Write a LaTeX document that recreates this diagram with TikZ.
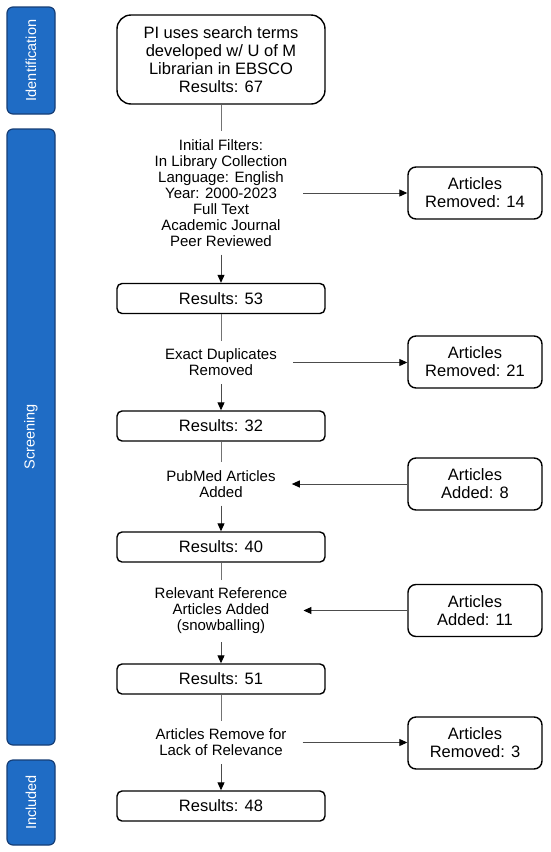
\documentclass[tikz,border=0pt]{standalone}
\usepackage{fontspec}
\setmainfont{Liberation Sans}
\usetikzlibrary{arrows.meta}
\definecolor{barblue}{RGB}{31,108,197}
\definecolor{barline}{RGB}{22,62,118}
\begin{document}
\begin{tikzpicture}[x=1pt,y=-1pt,
  bar/.style={draw=barline, line width=1.2pt, fill=barblue, rounded corners=6pt, rotate=90,
    minimum height=48pt, inner sep=0pt, text=white, font=\fontsize{14.5}{16}\selectfont},
  mainbox/.style={draw, line width=1.4pt, rounded corners=5pt, minimum width=208pt,
    minimum height=30pt, inner sep=0pt, align=center, font=\fontsize{16.5}{18}\selectfont},
  sidebox/.style={draw, line width=1.4pt, rounded corners=8pt, minimum width=134pt,
    minimum height=52pt, inner sep=0pt, align=center, font=\fontsize{16.5}{18}\selectfont},
  topbox/.style={mainbox, rounded corners=14pt, minimum height=89pt},
  stage/.style={align=center, inner xsep=16pt, inner ysep=8pt, font=\fontsize{15}{16}\selectfont},
  plain/.style={draw=black!55, line width=1pt},
  arr/.style={draw=black!70, line width=1pt, -{Triangle[length=8pt,width=7pt,color=black]}}
]
\fill[white] (0,0) rectangle (550,852);
\useasboundingbox (0,0) rectangle (550,852);

% phase bars
\node[bar, minimum width=107pt] (ident) at (31,60.5) {Identification};
\node[bar, minimum width=616pt] (screen) at (31,437) {Screening};
\node[bar, minimum width=85pt] (incl) at (31,802.5) {Included};

% main column
\node[topbox] (top) at (221,59.5) {PI uses search terms\\developed w/ U of M\\Librarian in EBSCO\\Results: 67};
\node[stage] (filt) at (221,193) {Initial Filters:\\In Library Collection\\Language: English\\Year: 2000-2023\\Full Text\\Academic Journal\\Peer Reviewed};
\node[mainbox] (r53) at (221,298.5) {Results: 53};
\node[stage] (dup) at (221,362.5) {Exact Duplicates\\Removed};
\node[mainbox] (r32) at (221,426) {Results: 32};
\node[stage] (pub) at (221,484) {PubMed Articles\\Added};
\node[mainbox] (r40) at (221,547) {Results: 40};
\node[stage] (rel) at (221,611) {Relevant Reference\\Articles Added\\(snowballing)};
\node[mainbox] (r51) at (221,679) {Results: 51};
\node[stage] (lack) at (221,742.5) {Articles Remove for\\Lack of Relevance};
\node[mainbox] (r48) at (221,806) {Results: 48};

% side column
\node[sidebox] (rem14) at (475,193) {Articles\\Removed: 14};
\node[sidebox] (rem21) at (475,362) {Articles\\Removed: 21};
\node[sidebox] (add8) at (475,484) {Articles\\Added: 8};
\node[sidebox] (add11) at (475,610.5) {Articles\\Added: 11};
\node[sidebox] (rem3) at (475,743) {Articles\\Removed: 3};

% vertical connectors
\draw[plain] (top.south) -- (filt.north);
\draw[arr] (filt.south) -- (r53.north);
\draw[plain] (r53.south) -- (dup.north);
\draw[arr] (dup.south) -- (r32.north);
\draw[plain] (r32.south) -- (pub.north);
\draw[arr] (pub.south) -- (r40.north);
\draw[plain] (r40.south) -- (rel.north);
\draw[arr] (rel.south) -- (r51.north);
\draw[plain] (r51.south) -- (lack.north);
\draw[arr] (lack.south) -- (r48.north);

% horizontal connectors
\draw[arr] (filt.east) -- (filt.east -| rem14.west);
\draw[arr] (dup.east) -- (dup.east -| rem21.west);
\draw[arr] (add8.west) -- (add8.west -| pub.east);
\draw[arr] (add11.west) -- (add11.west -| rel.east);
\draw[arr] (lack.east) -- (lack.east -| rem3.west);
\end{tikzpicture}
\end{document}
